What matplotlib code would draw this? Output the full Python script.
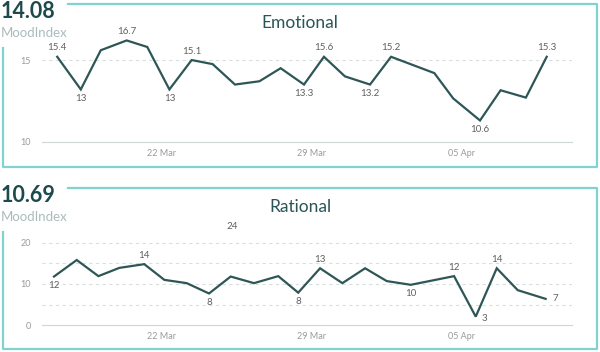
import matplotlib
matplotlib.use('Agg')
from matplotlib import pyplot as plt
from matplotlib.lines import Line2D
import matplotlib.dates as mdates
import pandas as pd

plt.rcParams['font.family'] = ['Lato', 'DejaVu Sans']

# emotional series (entry times, values, point labels)
emo_times = ['2021-03-17 03:36', '2021-03-18 06:00', '2021-03-19 04:20', '2021-03-20 09:20',
             '2021-03-21 08:24', '2021-03-22 09:10', '2021-03-23 10:05', '2021-03-24 09:36',
             '2021-03-25 10:34', '2021-03-26 13:55', '2021-03-27 13:41', '2021-03-28 15:50',
             '2021-03-29 14:10', '2021-03-30 13:41', '2021-03-31 17:46', '2021-04-01 17:17',
             '2021-04-03 17:46', '2021-04-04 14:53', '2021-04-05 20:53', '2021-04-06 19:55',
             '2021-04-08 00:14', '2021-04-08 23:31']
emo_values = [15.2, 13.2, 15.6, 16.2, 15.8, 13.2, 15.0, 14.75, 13.5, 13.7, 14.5, 13.5,
              15.2, 14.0, 13.5, 15.2, 14.2, 12.65, 11.3, 13.15, 12.7, 15.2]
emo_labels = ['15.4', '13', '', '16.7', '', '13', '15.1', '', '', '', '', '13.3',
              '15.6', '', '13.2', '15.2', '', '', '10.6', '', '', '15.3']

# rational series
rat_times = ['2021-03-17 00:00', '2021-03-18 01:26', '2021-03-19 01:41', '2021-03-20 01:12',
             '2021-03-21 05:02', '2021-03-22 03:29', '2021-03-23 04:34', '2021-03-24 05:31',
             '2021-03-25 05:46', '2021-03-26 07:55', '2021-03-27 11:02', '2021-03-28 09:22',
             '2021-03-29 09:50', '2021-03-30 10:48', '2021-03-31 12:14', '2021-04-01 12:29',
             '2021-04-02 15:22', '2021-04-04 15:50', '2021-04-05 16:05', '2021-04-06 15:36',
             '2021-04-07 15:07', '2021-04-08 22:19']
rat_values = [11.8, 15.8, 11.9, 13.9, 14.8, 11.0, 10.2, 7.7, 11.8, 10.2, 11.9, 7.9,
              13.8, 10.2, 13.8, 10.7, 9.8, 11.9, 2.1, 13.8, 8.5, 6.4]
rat_labels = ['12', '', '', '', '14', '', '', '8', '', '', '', '8',
              '13', '', '', '', '10', '12', '3', '14', '', '7']
rat_stray = ('2021-03-25 08:00', 24)

panels = [
    dict(title='Emotional', score='14.08', times=emo_times, values=emo_values,
         labels=emo_labels, ylim=(10, 16.84), yticks=[10, 15], grid=[15],
         box=(4, 167), ax_px=(30, 141.7)),
    dict(title='Rational', score='10.69', times=rat_times, values=rat_values,
         labels=rat_labels, ylim=(0, 25.0), yticks=[0, 10, 20], grid=[5, 10, 15, 20],
         box=(188, 349), ax_px=(222, 325.3)),
]

W, H = 600, 352
LINE = '#2f5656'
BORDER = '#82d2d2'
LABEL = '#606060'


def fx(px):
    return px / W


def fy(py):
    return 1 - py / H


fig = plt.figure(figsize=(6, 3.52), dpi=100)
fig.patch.set_facecolor('white')

for p in panels:
    top, bot = p['box']
    # frame around the panel, leaving the score corner open
    fig.add_artist(Line2D([fx(68), fx(597), fx(597), fx(3), fx(3)],
                          [fy(top), fy(top), fy(bot), fy(bot), fy(top + 44)],
                          transform=fig.transFigure, color=BORDER, lw=1.6))
    fig.text(fx(1), fy(top + 8), p['score'], fontsize=15.5, fontweight='bold',
             color='#1d4a4c', va='center', ha='left')
    fig.text(fx(1), fy(top + 29), 'MoodIndex', fontsize=9.5, color='#a9bcbc',
             va='center', ha='left')
    fig.text(0.5, fy(top + 19), p['title'], fontsize=12.5, color='#2a5456',
             va='center', ha='center')

    ax_top, ax_bot = p['ax_px']
    ax = fig.add_axes([fx(42), fy(ax_bot), fx(530), (ax_bot - ax_top) / H])
    ax.set_facecolor('none')
    t = pd.to_datetime(p['times'])
    ax.plot(t, p['values'], color=LINE, lw=1.6, solid_joinstyle='miter')

    vals = p['values']
    for i, (ti, v, lab) in enumerate(zip(t, vals, p['labels'])):
        if not lab:
            continue
        nb = [vals[j] for j in (i - 1, i + 1) if 0 <= j < len(vals)]
        up = v >= sum(nb) / len(nb)
        if i == len(vals) - 1 and not up:
            ax.annotate(lab, (ti, v), xytext=(5, 0), textcoords='offset points',
                        ha='left', va='center', fontsize=7, color=LABEL)
        elif not up and v < 5:
            # deep dip: label sits beside the point
            ax.annotate(lab, (ti, v), xytext=(4, -1), textcoords='offset points',
                        ha='left', va='center', fontsize=7, color=LABEL)
        else:
            ax.annotate(lab, (ti, v), xytext=(0, 6.5 if up else -6.5),
                        textcoords='offset points', ha='center', va='center',
                        fontsize=7, color=LABEL)

    base = pd.Timestamp('2021-03-22')
    ax.set_xlim(base - pd.Timedelta(days=5.56), base + pd.Timedelta(days=19.16))
    ax.set_ylim(*p['ylim'])
    ax.set_yticks(p['yticks'])
    for g in p['grid']:
        ax.axhline(g, color='#d9dede', lw=0.8, ls=(0, (3, 3)), zorder=0)
    ax.xaxis.set_major_locator(mdates.DayLocator(bymonthday=[22, 29, 5]))
    ax.xaxis.set_major_formatter(mdates.DateFormatter('%d %b'))
    for s in ['top', 'right', 'left']:
        ax.spines[s].set_visible(False)
    ax.spines['bottom'].set_color('#cfd6d6')
    ax.tick_params(length=0, labelsize=6.5, labelcolor='#9a9a9a')
    ax.tick_params(axis='y', pad=8)
    ax.tick_params(axis='x', pad=5)

    if p['title'] == 'Rational':
        ax.text(pd.Timestamp(rat_stray[0]), rat_stray[1], str(rat_stray[1]),
                ha='center', va='center', fontsize=7, color=LABEL)

fig.savefig('out.png', dpi=100, facecolor='white')
